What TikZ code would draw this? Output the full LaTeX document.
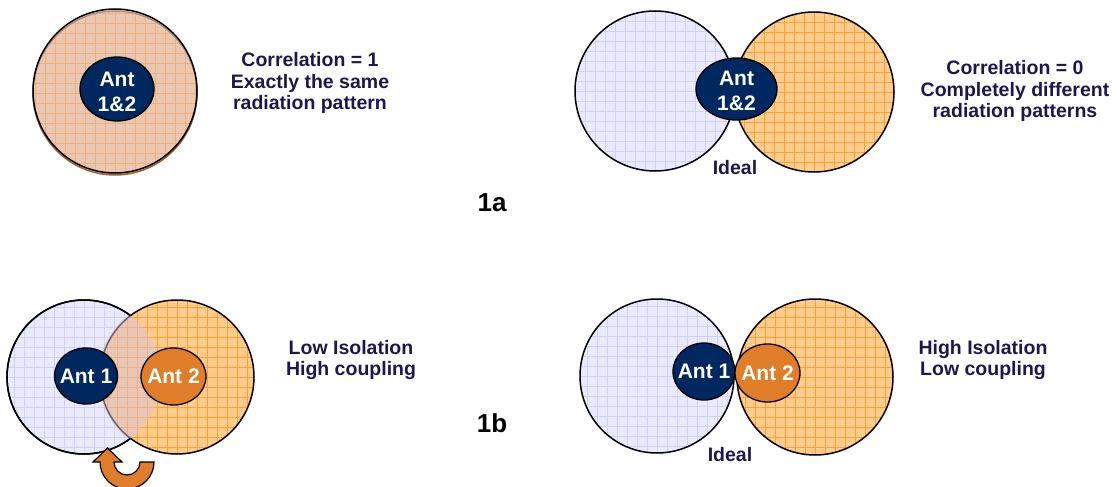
\documentclass[tikz,border=0pt]{standalone}
\usepackage{fontspec}
\setmainfont{Liberation Sans}
\usetikzlibrary{shapes.geometric}
\definecolor{lavfill}{RGB}{234,234,255}
\definecolor{lavline}{RGB}{208,208,248}
\definecolor{orgfill}{RGB}{255,204,140}
\definecolor{orgline}{RGB}{248,162,56}
\definecolor{mixover}{RGB}{215,195,222}
\definecolor{navy}{RGB}{0,40,96}
\definecolor{antorange}{RGB}{224,125,40}
\definecolor{lbltext}{RGB}{30,22,80}
\begin{document}
\begin{tikzpicture}[x=1pt,y=-1pt,
  lavgrid/.style={path picture={\fill[lavfill] (path picture bounding box.south west) rectangle (path picture bounding box.north east);
      \draw[lavline,line width=0.7pt,step=10pt] (path picture bounding box.south west) grid (path picture bounding box.north east);}},
  orggrid/.style={path picture={\fill[orgfill] (path picture bounding box.south west) rectangle (path picture bounding box.north east);
      \draw[orgline,line width=0.7pt,step=10pt] (path picture bounding box.south west) grid (path picture bounding box.north east);}},
  circ/.style={circle,draw=black,line width=1.5pt,inner sep=0pt},
  ant/.style={ellipse,draw=black,line width=1.3pt,inner sep=0pt},
  anttext/.style={text=white,font=\fontsize{21}{25}\selectfont\bfseries,align=center,inner sep=0pt},
  lbl/.style={text=lbltext,font=\fontsize{19.5}{21.5}\selectfont\bfseries,align=center,inner sep=0pt},
  big/.style={text=black,font=\fontsize{26}{30}\selectfont\bfseries,inner sep=0pt}]
\useasboundingbox (0,0) rectangle (1117,487);

% ---------- 1a left ----------
\node[circ,draw=brown!80!black,orggrid,minimum size=164pt] (tlo) at (115,93) {};
\node[circ,fill=mixover,fill opacity=0.45,minimum size=164pt] (tl) at (115,91) {};
\node[ant,fill=navy,minimum width=74pt,minimum height=64pt] (tla) at (117,89) {};
\node[anttext] at (117,92) {Ant\\1\&2};
\node[lbl] (tlt) at (310,83) {Correlation = 1\\Exactly the same\\radiation pattern};

% ---------- 1a right ----------
\node[circ,lavgrid,minimum size=160pt] (trl) at (655,91) {};
\node[circ,orggrid,minimum size=160pt] (trr) at (814,92) {};
\node[ant,fill=navy,minimum width=81pt,minimum height=62pt] (tra) at (736.5,89) {};
\node[anttext] at (736.5,91) {Ant\\1\&2};
\node[lbl] (tri) at (735,168) {Ideal};
\node[lbl] (trt) at (1015,91) {Correlation = 0\\Completely different\\radiation patterns};

\node[big] (l1a) at (492,203) {1a};
\node[big] (l1b) at (492,423) {1b};

% ---------- 1b left ----------
\node[circ,lavgrid,minimum size=154pt] (bl1) at (84,377) {};
\node[circ,orggrid,minimum size=154pt] (bl2) at (177,377) {};
\begin{scope}
  \clip (bl2.center) circle (79);
  \fill[mixover,opacity=0.5] (bl1.center) circle (77);
\end{scope}
\draw[line width=1.5pt] (bl1.center) ++(52.85:77) arc[start angle=52.85,end angle=307.15,radius=77];
\node[ant,fill=navy,minimum width=63pt,minimum height=56pt] (bla1) at (86,376) {};
\node[anttext] at (bla1.center) {Ant 1};
\node[ant,fill=antorange,minimum width=65pt,minimum height=57pt] (bla2) at (173.5,376.5) {};
\node[anttext] at (bla2.center) {Ant 2};
\node[lbl] (blt) at (351,360) {Low Isolation\\High coupling};
% coupling arrow
\filldraw[fill=antorange,draw=black,line width=1.2pt]
  (154,462) arc[start angle=0,end angle=180,radius=27]
  -- (93,462) -- (107.5,448) -- (122,462) -- (114,462)
  arc[start angle=180,end angle=0,radius=13] -- cycle;

% ---------- 1b right ----------
\node[circ,lavgrid,minimum size=154pt] (brl) at (657,376) {};
\node[circ,orggrid,minimum size=156pt] (brr) at (815,377) {};
\node[ant,fill=navy,minimum width=62pt,minimum height=57pt] (bra1) at (704,371.5) {};
\node[anttext] at (bra1.center) {Ant 1};
\node[ant,fill=antorange,minimum width=65pt,minimum height=58pt] (bra2) at (767.5,373) {};
\node[anttext] at (bra2.center) {Ant 2};
\node[lbl] (bri) at (730,455) {Ideal};
\node[lbl] (brt) at (983,360) {High Isolation\\Low coupling};
\end{tikzpicture}
\end{document}
